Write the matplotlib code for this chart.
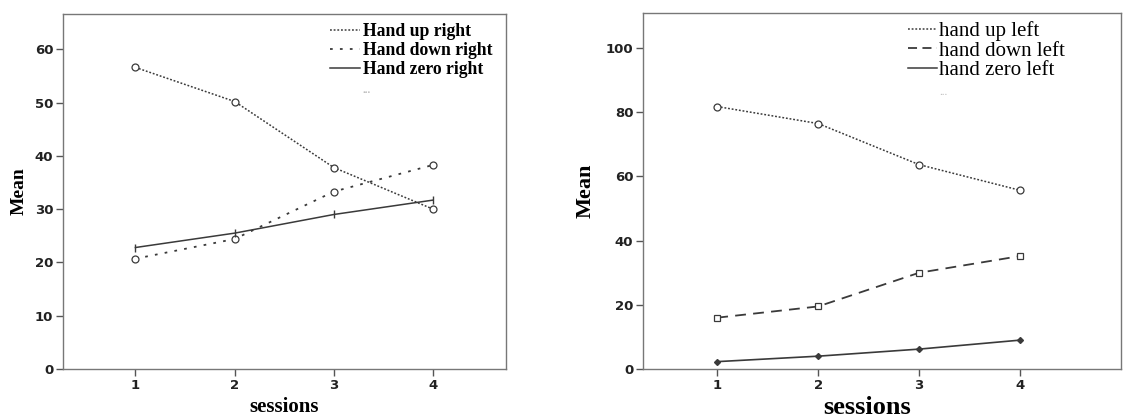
import matplotlib.pyplot as plt
from matplotlib.lines import Line2D

## data

sessions = [1, 2, 3, 4]

up_right = [56.6, 50.2, 37.8, 30.0]
down_right = [20.7, 24.4, 33.3, 38.3]
zero_right = [22.8, 25.5, 29.0, 31.7]

up_left = [81.8, 76.5, 63.7, 55.7]
down_left = [16.0, 19.5, 30.0, 35.2]
zero_left = [2.3, 4.0, 6.2, 9.0]

labels_right = ['Hand up right', 'Hand down right', 'Hand zero right']
labels_left = ['hand up left', 'hand down left', 'hand zero left']

lc = '#3a3a3a'
serif = 'Liberation Serif'

fig = plt.figure(figsize=(11.23, 4.19), dpi=100)
ax1 = fig.add_axes([0.0561, 0.1193, 0.3945, 0.847])
ax2 = fig.add_axes([0.5726, 0.1193, 0.4256, 0.850])

## left panel
ax1.plot(sessions, up_right, color=lc, lw=1.1, ls=(0, (1.2, 1.2)),
         marker='o', mfc='white', mec=lc, ms=5, mew=0.9)
ax1.plot(sessions, down_right, color=lc, lw=1.3, ls=(0, (1.5, 4)),
         marker='o', mfc='white', mec=lc, ms=5, mew=0.9)
ax1.plot(sessions, zero_right, color=lc, lw=1.1, ls='-',
         marker='|', mec=lc, ms=6, mew=1.0)
ax1.set_xlim(0.27, 4.735)
ax1.set_ylim(0, 66.6)
ax1.set_yticks([0, 10, 20, 30, 40, 50, 60])
ax1.set_xticks(sessions)
ax1.set_xlabel('sessions', fontfamily=serif, fontweight='bold', fontsize=15, labelpad=4)
ax1.set_ylabel('Mean', fontfamily=serif, fontweight='bold', fontsize=14, labelpad=5)

h1 = [Line2D([], [], color=lc, lw=1.1, ls=(0, (1.2, 1.2))),
      Line2D([], [], color=lc, lw=1.3, ls=(0, (1.5, 4))),
      Line2D([], [], color=lc, lw=1.1, ls='-'),
      Line2D([], [], color='none')]
leg1 = ax1.legend(h1, labels_right + ['...'], loc='upper left', frameon=False,
                  prop={'family': serif, 'weight': 'bold', 'size': 12.7},
                  handlelength=1.7, handletextpad=0.15, labelspacing=0.12,
                  borderaxespad=0, borderpad=0, bbox_to_anchor=(0.603, 0.975))
leg1.get_texts()[-1].set_color('#bbbbbb')
leg1.get_texts()[-1].set_fontsize(8)

## right panel
ax2.plot(sessions, up_left, color=lc, lw=1.1, ls=(0, (1.2, 1.2)),
         marker='o', mfc='white', mec=lc, ms=5, mew=0.9)
ax2.plot(sessions, down_left, color=lc, lw=1.3, ls=(0, (6, 4)),
         marker='s', mfc='white', mec=lc, ms=5, mew=0.9)
ax2.plot(sessions, zero_left, color=lc, lw=1.2, ls='-',
         marker='D', mfc=lc, mec=lc, ms=3)
ax2.set_xlim(0.265, 5.0)
ax2.set_ylim(0, 111)
ax2.set_yticks([0, 20, 40, 60, 80, 100])
ax2.set_xticks(sessions)
ax2.set_xlabel('sessions', fontfamily=serif, fontweight='bold', fontsize=19)
ax2.xaxis.set_label_coords(0.469, -0.075)
ax2.set_ylabel('Mean', fontfamily=serif, fontweight='bold', fontsize=16, labelpad=7)

h2 = [Line2D([], [], color=lc, lw=1.1, ls=(0, (1.2, 1.2))),
      Line2D([], [], color=lc, lw=1.3, ls=(0, (5, 3))),
      Line2D([], [], color=lc, lw=1.1, ls='-'),
      Line2D([], [], color='none')]
leg2 = ax2.legend(h2, labels_left + ['...'], loc='upper left', frameon=False,
                  prop={'family': serif, 'size': 15},
                  handlelength=1.4, handletextpad=0.1, labelspacing=0.0,
                  borderaxespad=0, borderpad=0, bbox_to_anchor=(0.554, 0.977))
leg2.get_texts()[-1].set_color('#bbbbbb')
leg2.get_texts()[-1].set_fontsize(8)

for ax in (ax1, ax2):
    for sp in ax.spines.values():
        sp.set_color('#777777')
        sp.set_linewidth(1.0)
    ax.tick_params(direction='out', length=5, width=1.0, color='#555555',
                   labelsize=9.5, pad=2)
    for t in ax.get_xticklabels() + ax.get_yticklabels():
        t.set_fontweight('bold')
        t.set_color('#222222')

fig.savefig('out.png', dpi=100)
